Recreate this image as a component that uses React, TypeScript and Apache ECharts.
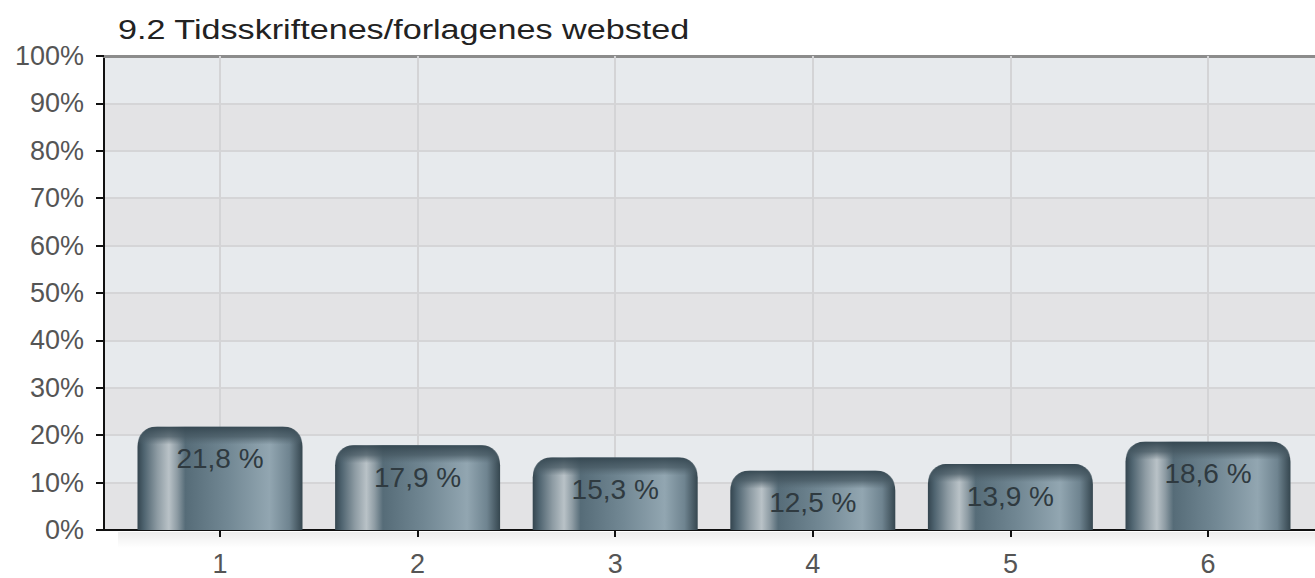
import React, { useEffect, useRef } from "react";
import * as echarts from "echarts";

const categories = ["1", "2", "3", "4", "5", "6"];
const values = [21.8, 17.9, 15.3, 12.5, 13.9, 18.6];
const valueLabels = ["21,8 %", "17,9 %", "15,3 %", "12,5 %", "13,9 %", "18,6 %"];
const titleText = "9.2 Tidsskriftenes/forlagenes websted";

export default function App() {
  const ref = useRef<HTMLDivElement>(null);
  useEffect(() => {
    if (!ref.current) return;
    document.body.style.margin = "0";
    const chart = echarts.init(ref.current, null, { renderer: "svg" });
    const font = "Liberation Sans, Arial, sans-serif";
    const barFill = () =>
      new echarts.graphic.LinearGradient(0, 0, 1, 0, [
        { offset: 0, color: "#34454f" },
        { offset: 0.04, color: "#4f6470" },
        { offset: 0.12, color: "#8d9ba3" },
        { offset: 0.19, color: "#b9c2c7" },
        { offset: 0.24, color: "#8e9ca4" },
        { offset: 0.29, color: "#566c78" },
        { offset: 0.55, color: "#728894" },
        { offset: 0.8, color: "#92a6b1" },
        { offset: 0.92, color: "#6f8490" },
        { offset: 1, color: "#35464f" },
      ]);
    const capFill = () =>
      new echarts.graphic.LinearGradient(0, 0, 0, 1, [
        { offset: 0, color: "rgba(52,70,80,0.95)" },
        { offset: 0.55, color: "rgba(70,88,98,0.75)" },
        { offset: 1, color: "rgba(80,98,108,0)" },
      ]);
    chart.setOption({
      animation: false,
      backgroundColor: "#ffffff",
      graphic: [
        {
          type: "text",
          x: 118,
          y: 16,
          scaleX: 1.22,
          style: {
            text: titleText,
            fontFamily: font,
            fontSize: 28,
            fill: "#222",
            textVerticalAlign: "top",
          },
        },
        {
          type: "rect",
          shape: { x: 118, y: 532, width: 1197, height: 16 },
          style: {
            fill: new echarts.graphic.LinearGradient(0, 0, 0, 1, [
              { offset: 0, color: "rgba(0,0,0,0.07)" },
              { offset: 1, color: "rgba(0,0,0,0)" },
            ]),
          },
          z: -1,
        },
      ],
      grid: [
        { left: 104, right: 0, top: 56, bottom: 48 },
        { left: 220, right: 107, top: 56, bottom: 48 },
      ],
      xAxis: [
        {
          gridIndex: 0,
          type: "value",
          min: 0,
          max: 1,
          axisLine: { show: true, lineStyle: { color: "#111", width: 2 } },
          axisTick: { show: false },
          axisLabel: { show: false },
          splitLine: { show: false },
        },
        {
          gridIndex: 0,
          type: "value",
          position: "top",
          min: 0,
          max: 1,
          axisLine: { show: true, lineStyle: { color: "#8c8c8c", width: 3 } },
          axisTick: { show: false },
          axisLabel: { show: false },
          splitLine: { show: false },
        },
        {
          gridIndex: 1,
          type: "category",
          data: categories,
          boundaryGap: false,
          z: 1,
          axisLine: { show: false },
          axisTick: { show: true, length: 7, lineStyle: { color: "#111", width: 2 } },
          axisLabel: { fontFamily: font, fontSize: 27, color: "#555", margin: 20 },
          splitLine: { show: true, lineStyle: { color: "#d4d4d6", width: 2 } },
        },
      ],
      yAxis: [
        {
          gridIndex: 0,
          type: "value",
          min: 0,
          max: 100,
          interval: 10,
          axisLine: { show: true, lineStyle: { color: "#111", width: 2 } },
          axisTick: { show: true, length: 8, lineStyle: { color: "#111", width: 2 } },
          axisLabel: { fontFamily: font, fontSize: 27, color: "#555", margin: 20, formatter: "{value}%" },
          splitLine: { show: true, lineStyle: { color: "#d5d5d7", width: 2 } },
          splitArea: { show: true, areaStyle: { color: ["#e3e3e5", "#e7eaed"] } },
        },
        {
          gridIndex: 1,
          type: "value",
          min: 0,
          max: 100,
          show: false,
        },
      ],
      series: [
        {
          type: "custom",
          xAxisIndex: 2,
          yAxisIndex: 1,
          data: values.map((v, i) => [i, v]),
          encode: { x: 0, y: 1 },
          clip: false,
          z: 3,
          renderItem: (params: any, api: any) => {
            const idx = api.value(0);
            const v = api.value(1);
            const top = api.coord([idx, v]);
            const base = api.coord([idx, 0]);
            const bw = api.size([1, 0])[0] * 0.835;
            const x = top[0] - bw / 2;
            const y = top[1];
            const h = base[1] - top[1];
            const r = Math.min(20, h / 2);
            return {
              type: "group",
              children: [
                {
                  type: "rect",
                  shape: { x, y, width: bw, height: h, r: [r, r, 0, 0] },
                  style: { fill: barFill() },
                },
                {
                  type: "rect",
                  shape: { x, y, width: bw, height: Math.min(18, h), r: [r, r, 0, 0] },
                  style: { fill: capFill() },
                },
                {
                  type: "text",
                  style: {
                    text: valueLabels[params.dataIndex],
                    x: top[0],
                    y: y + 32,
                    align: "center",
                    verticalAlign: "middle",
                    fontFamily: font,
                    fontSize: 28,
                    fill: "#2f3a40",
                  },
                },
              ],
            };
          },
        },
      ],
    });
    return () => chart.dispose();
  }, []);
  return <div ref={ref} style={{ width: 1315, height: 578 }} />;
}
